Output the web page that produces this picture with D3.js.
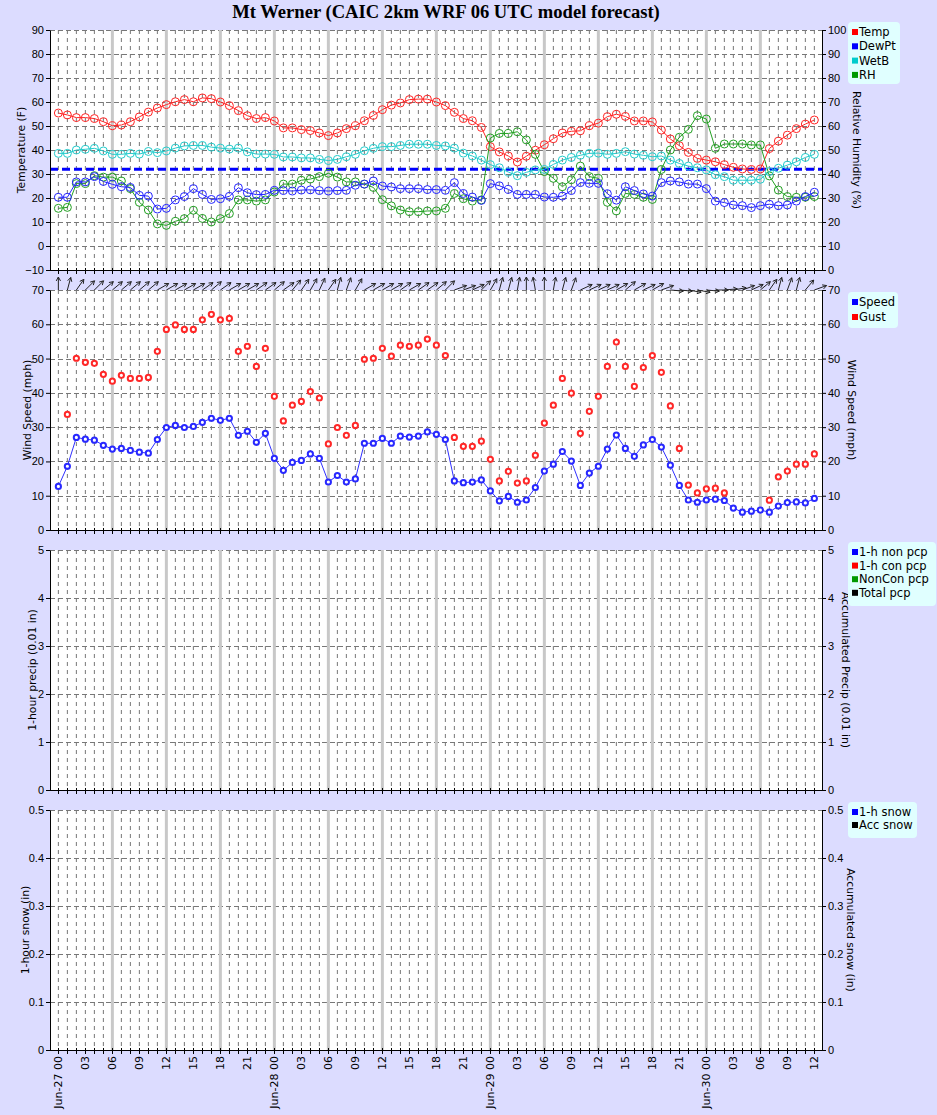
<!DOCTYPE html>
<html>
<head>
<meta charset="utf-8">
<script src="https://cdn.jsdelivr.net/npm/d3@7"></script>
<style>
  body { margin: 0; background: #dcdcff; }
  svg { display: block; font-family: "DejaVu Sans", Verdana, sans-serif; }
</style>
</head>
<body>
<svg id="chart" width="937" height="1115"></svg>
<script>
// Forecast hours from Jun-27 00 UTC
const hours = d3.range(0, 85);

const xTickLabels = ["Jun-27 00","03","06","09","12","15","18","21",
  "Jun-28 00","03","06","09","12","15","18","21",
  "Jun-29 00","03","06","09","12","15","18","21",
  "Jun-30 00","03","06","09","12"];

// Temperature panel (F) and RH (%)
const temp = [55.4,54.6,53.5,53.5,53.1,51.8,50.1,50.4,51.8,53.8,55.8,57.5,58.9,60.1,61.0,60.1,61.7,61.4,60.0,58.5,
  56.4,54.3,53.1,53.5,52.1,49.2,49.2,48.5,48.1,47.1,46.0,47.1,48.9,50.1,52.2,54.4,56.8,58.7,59.6,61.0,
  61.2,61.2,60.0,58.5,55.7,53.1,52.2,49.4,41.4,39.2,37.5,35.0,37.4,39.9,42.2,44.7,47.1,47.8,48.0,50.1,
  51.2,53.9,54.9,54.0,52.1,52.1,51.7,48.3,44.6,41.8,39.0,36.5,35.8,35.1,33.9,32.8,32.1,31.9,32.1,40.6,
  43.7,46.2,48.9,50.8,52.5];
const dewpt = [20.3,20.3,26.7,26.7,28.9,26.9,25.7,24.7,24.4,21.1,20.8,15.4,15.7,19.2,20.6,23.9,21.5,19.4,19.7,20.7,
  24.3,22.2,21.4,21.5,23.2,23.1,22.9,23.3,23.4,23.1,22.9,23.1,23.2,25.3,25.8,27.1,25.0,24.6,23.9,23.9,
  23.9,23.5,23.5,23.2,26.4,21.9,20.4,19.0,26.0,25.1,23.6,21.5,21.5,21.5,20.4,20.3,20.8,23.1,26.4,26.1,
  26.1,21.8,19.1,24.7,23.1,21.7,20.8,26.4,27.1,26.7,25.8,25.8,23.9,18.7,18.1,17.1,16.8,16.0,16.8,17.4,
  16.8,17.1,18.7,20.6,22.4];
const wetb = [38.6,38.6,40.0,40.3,40.7,39.6,38.2,38.2,38.6,38.3,39.4,38.9,39.6,40.8,41.7,41.9,41.9,41.2,40.8,40.4,
  40.8,39.2,38.3,38.3,38.2,37.1,37.1,36.7,36.7,36.1,35.6,36.1,37.2,38.2,39.7,40.7,41.4,41.4,41.9,42.4,
  42.4,42.4,41.9,41.7,40.8,38.7,37.5,35.8,33.9,32.6,30.8,29.3,30.7,31.7,31.9,34.0,35.8,36.9,37.8,38.6,
  38.7,38.2,38.6,39.3,38.3,37.8,37.2,37.5,35.8,34.4,33.3,32.6,31.7,29.7,28.9,27.4,27.4,27.4,27.8,31.0,
  32.4,33.7,35.1,36.9,38.2];
const rh = [25.7,26.1,36.0,36.0,39.3,38.7,38.7,37.1,33.9,28.2,25.0,19.2,18.6,20.3,21.4,24.9,21.5,20.0,21.4,23.5,
  29.2,29.2,28.7,29.2,32.5,35.8,35.8,37.4,37.9,38.9,40.3,38.7,36.7,36.7,35.8,34.4,29.3,26.7,25.0,24.3,
  24.3,24.6,24.6,25.7,31.9,29.7,28.7,29.2,55.0,56.9,56.9,57.6,54.2,48.2,41.0,38.2,34.7,37.6,43.3,38.9,
  38.2,28.2,24.6,31.9,31.5,30.3,29.4,41.9,50.0,55.3,58.6,64.3,62.9,50.7,52.5,52.5,52.5,52.1,52.1,39.2,
  33.3,30.6,30.3,30.3,30.6];
const freezing = 32;

// Wind panel (mph); direction the wind blows from (deg)
const speed = [12.7,18.6,27.0,26.5,26.2,24.7,23.6,23.8,23.2,22.7,22.4,26.4,29.9,30.5,29.9,30.2,31.4,32.6,32.0,32.6,
  27.6,28.8,25.6,28.2,20.9,17.4,19.7,20.3,22.2,20.9,14.0,15.9,14.0,14.9,25.3,25.3,26.7,25.3,27.4,27.1,
  27.4,28.6,27.9,26.4,14.3,13.8,14.0,14.6,11.4,8.5,9.8,8.1,8.75,12.4,17.2,19.2,22.9,20.1,13.0,16.6,
  18.6,23.6,27.7,23.8,21.5,24.8,26.4,24.2,18.9,13.0,8.75,8.1,8.75,9.0,8.6,6.4,5.2,5.5,5.8,5.2,
  7.0,8.0,8.2,7.9,9.2];
const gust = [null,33.7,50.1,48.9,48.6,45.4,43.4,45.1,44.2,44.2,44.5,52.1,58.5,59.8,58.5,58.5,61.3,62.9,61.3,61.7,
  52.1,53.6,47.7,53.0,39.0,31.8,36.4,37.5,40.4,38.5,25.1,29.9,27.6,30.5,49.8,50.1,53.0,50.7,53.9,53.6,
  53.9,55.7,53.9,50.9,27.0,24.4,24.4,25.9,20.6,14.3,17.1,13.7,14.3,21.8,31.2,36.4,44.2,39.9,28.2,34.6,
  39.0,47.7,54.8,47.7,41.9,47.4,50.9,46.0,36.2,23.8,13.1,10.8,12.0,12.2,10.8,null,null,null,null,8.7,
  15.5,17.2,19.2,19.2,22.2];
const windDir = [180,195,215,225,225,230,230,230,230,230,230,240,240,240,240,240,235,230,235,240,
  240,240,235,235,230,235,220,215,210,205,215,195,200,210,240,240,240,240,235,240,
  235,235,230,225,250,250,245,225,210,195,195,190,180,170,180,190,195,200,245,245,
  245,245,240,230,240,245,240,250,275,275,280,280,275,270,265,260,250,245,230,215,
  195,200,195,220,250];

// Precip (0.01 in) and snow (in): nothing forecast
const precip1h = [0,0,0,0,0,0,0,0,0,0,0,0,0,0,0,0,0,0,0,0,0,0,0,0,0,0,0,0,0,0,0,0,0,0,0,0,0,0,0,0,0,0,
  0,0,0,0,0,0,0,0,0,0,0,0,0,0,0,0,0,0,0,0,0,0,0,0,0,0,0,0,0,0,0,0,0,0,0,0,0,0,0,0,0];
const snow1h = [0,0,0,0,0,0,0,0,0,0,0,0,0,0,0,0,0,0,0,0,0,0,0,0,0,0,0,0,0,0,0,0,0,0,0,0,0,0,0,0,0,0,
  0,0,0,0,0,0,0,0,0,0,0,0,0,0,0,0,0,0,0,0,0,0,0,0,0,0,0,0,0,0,0,0,0,0,0,0,0,0,0,0,0];

const legendTemp = ["Temp", "DewPt", "WetB", "RH"];
const legendWind = ["Speed", "Gust"];
const legendPrecip = ["1-h non pcp", "1-h con pcp", "NonCon pcp", "Total pcp"];
const legendSnow = ["1-h snow", "Acc snow"];

const C = { temp: "#ff2424", dew: "#2424ff", wetb: "#22cccc", rh: "#22a022" };

const svg = d3.select("#chart");
const left = 50, right = 822;
const x = d3.scaleLinear().domain([-0.93, 84.85]).range([left, right]);

svg.append("text")
  .attr("x", 446).attr("y", 18)
  .attr("text-anchor", "middle")
  .style("font-family", "'Liberation Serif','Times New Roman',serif")
  .style("font-weight", "bold").style("font-size", "18.6px")
  .text("Mt Werner (CAIC 2km WRF 06 UTC model forecast)");

// frame, grid and axes for one panel
function panel(o) {
  const g = svg.append("g");
  g.append("rect").attr("x", left).attr("y", o.top)
    .attr("width", right - left).attr("height", o.bottom - o.top).attr("fill", "#fff");

  g.selectAll(".vg").data(hours).enter().append("line")
    .attr("x1", d => x(d)).attr("x2", d => x(d))
    .attr("y1", o.top).attr("y2", o.bottom)
    .attr("stroke", "#777").attr("stroke-dasharray", "4,4");
  g.selectAll(".hg").data(o.yTicks).enter().append("line")
    .attr("x1", left).attr("x2", right)
    .attr("y1", d => Math.round(o.y(d)) + 0.5).attr("y2", d => Math.round(o.y(d)) + 0.5)
    .attr("stroke", "#777").attr("stroke-dasharray", "5,3");
  g.selectAll(".thick").data(hours.filter(h => h % 6 === 0 && h > 0 && h < 84)).enter().append("line")
    .attr("x1", d => x(d)).attr("x2", d => x(d))
    .attr("y1", o.top).attr("y2", o.bottom)
    .attr("stroke", "#c8c8c8").attr("stroke-width", 3);
  return g;
}

function axes(o) {
  const g = svg.append("g");
  const la = g.append("g").attr("transform", `translate(${left},0)`)
    .call(d3.axisLeft(o.y).tickValues(o.yTicks).tickFormat(o.fmt).tickSize(4).tickSizeOuter(0).tickPadding(2));
  const ra = g.append("g").attr("transform", `translate(${right},0)`)
    .call(d3.axisRight(o.y2).tickValues(o.y2Ticks).tickFormat(o.fmt2).tickSize(4).tickSizeOuter(0).tickPadding(2));
  [la, ra].forEach(a => {
    a.selectAll("text").style("font-size", "11px").attr("fill", "#000");
    a.select(".domain").attr("stroke", "#000");
  });
  g.append("line").attr("x1", left).attr("x2", right + 0.5)
    .attr("y1", o.bottom + 0.5).attr("y2", o.bottom + 0.5).attr("stroke", "#000");
  g.selectAll(".bt").data(hours).enter().append("line")
    .attr("x1", d => Math.round(x(d)) + 0.5).attr("x2", d => Math.round(x(d)) + 0.5)
    .attr("y1", o.bottom - 2).attr("y2", o.bottom + 4).attr("stroke", "#000");

  g.append("text").attr("transform", `translate(${o.ltx},${(o.top + o.bottom) / 2}) rotate(-90)`)
    .attr("text-anchor", "middle").attr("dy", "0.35em").style("font-size", "10.8px").text(o.lt);
  g.append("text").attr("transform", `translate(${o.rtx},${(o.top + o.bottom) / 2}) rotate(90)`)
    .attr("text-anchor", "middle").attr("dy", "0.35em").style("font-size", "10.8px").text(o.rt);
}

function legend(x0, y0, w, h, names, colors, step) {
  const g = svg.append("g").attr("transform", `translate(${x0},${y0})`);
  g.append("rect").attr("width", w).attr("height", h).attr("rx", 4)
    .attr("fill", "#e0ffff");
  names.forEach((n, i) => {
    const cy = 10 + i * step;
    g.append("rect").attr("x", 4).attr("y", cy - 3).attr("width", 6).attr("height", 6).attr("fill", colors[i]);
    g.append("text").attr("x", 11).attr("y", cy).attr("dy", "0.35em").style("font-size", "11.5px").text(n);
  });
}

// ---------- Panel 1: temperature ----------
const p1 = { top: 30, bottom: 270 };
p1.y = d3.scaleLinear().domain([-10, 90]).range([p1.bottom, p1.top]);
p1.yTicks = d3.range(-10, 91, 10);
p1.y2 = d3.scaleLinear().domain([0, 100]).range([p1.bottom, p1.top]);
p1.y2Ticks = d3.range(0, 101, 10);
p1.fmt = d3.format("d"); p1.fmt2 = d3.format("d");
p1.lt = "Temperature (F)"; p1.ltx = 21; p1.rt = "Relative Humidity (%)"; p1.rtx = 857;
const g1 = panel(p1);

g1.append("line").attr("x1", left).attr("x2", right)
  .attr("y1", p1.y(freezing)).attr("y2", p1.y(freezing))
  .attr("stroke", "#0000ff").attr("stroke-width", 3).attr("stroke-dasharray", "8,4");

function series(g, vals, yScale, color) {
  const pts = hours.map((h, i) => [h, vals[i]]);
  g.append("path").datum(pts)
    .attr("fill", "none").attr("stroke", color).attr("stroke-width", 1)
    .attr("d", d3.line().x(d => x(d[0])).y(d => yScale(d[1])));
  g.selectAll(null).data(pts).enter().append("circle")
    .attr("cx", d => x(d[0])).attr("cy", d => yScale(d[1])).attr("r", 4)
    .attr("fill", "none").attr("stroke", color).attr("stroke-width", 1);
}
series(g1, temp, p1.y, C.temp);
series(g1, rh, p1.y2, C.rh);
series(g1, wetb, p1.y, C.wetb);
series(g1, dewpt, p1.y, C.dew);
axes(p1);
legend(848, 22, 52, 62, legendTemp, ["#ff0000", "#0000ff", "#00cccc", "#009900"], 14.3);

// ---------- Panel 2: wind ----------
const p2 = { top: 290, bottom: 530 };
p2.y = d3.scaleLinear().domain([0, 70]).range([p2.bottom, p2.top]);
p2.yTicks = d3.range(0, 71, 10);
p2.y2 = p2.y; p2.y2Ticks = p2.yTicks;
p2.fmt = d3.format("d"); p2.fmt2 = d3.format("d");
p2.lt = "Wind Speed (mph)"; p2.ltx = 27; p2.rt = "Wind Speed (mph)"; p2.rtx = 852;
const g2 = panel(p2);

const spPts = hours.map((h, i) => [h, speed[i]]);
g2.append("path").datum(spPts).attr("fill", "none").attr("stroke", "#3030ff")
  .attr("d", d3.line().x(d => x(d[0])).y(d => p2.y(d[1])));
g2.selectAll(null).data(spPts).enter().append("circle")
  .attr("cx", d => x(d[0])).attr("cy", d => p2.y(d[1])).attr("r", 2.6)
  .attr("fill", "#fff").attr("stroke", "#2828ff").attr("stroke-width", 2);
const guPts = hours.map((h, i) => [h, gust[i]]).filter(d => d[1] !== null);
g2.selectAll(null).data(guPts).enter().append("circle")
  .attr("cx", d => x(d[0])).attr("cy", d => p2.y(d[1])).attr("r", 2.6)
  .attr("fill", "#fff").attr("stroke", "#ff2828").attr("stroke-width", 2);
axes(p2);

// direction arrows above the wind panel
const arrowLen = 13;
const ag = svg.append("g").attr("stroke", "#222").attr("fill", "none").attr("stroke-width", 1);
hours.forEach((h, i) => {
  const a = (windDir[i] + 180) * Math.PI / 180;
  const x0 = x(h), y0 = p2.top;
  const x1 = x0 + arrowLen * Math.sin(a), y1 = y0 - arrowLen * Math.cos(a);
  const hl = 4.5, ha = 0.5;
  const p = d3.path();
  p.moveTo(x0, y0); p.lineTo(x1, y1);
  p.moveTo(x1 + hl * Math.sin(a + Math.PI - ha), y1 - hl * Math.cos(a + Math.PI - ha));
  p.lineTo(x1, y1);
  p.lineTo(x1 + hl * Math.sin(a + Math.PI + ha), y1 - hl * Math.cos(a + Math.PI + ha));
  ag.append("path").attr("d", p.toString());
});
legend(848, 292, 50, 36, legendWind, ["#0000ff", "#ff0000"], 15);

// ---------- Panel 3: precip ----------
const p3 = { top: 550, bottom: 790 };
p3.y = d3.scaleLinear().domain([0, 5]).range([p3.bottom, p3.top]);
p3.yTicks = d3.range(0, 6, 1);
p3.y2 = p3.y; p3.y2Ticks = p3.yTicks;
p3.fmt = d3.format("d"); p3.fmt2 = d3.format("d");
p3.lt = "1-hour precip (0.01 in)"; p3.ltx = 32; p3.rt = "Accumulated Precip (0.01 in)"; p3.rtx = 846;
const g3 = panel(p3);
g3.selectAll(null).data(hours).enter().append("rect")
  .attr("x", d => x(d) - 3).attr("width", 6)
  .attr("y", (d, i) => p3.y(precip1h[i])).attr("height", (d, i) => p3.y(0) - p3.y(precip1h[i]))
  .attr("fill", "#0000ff");
axes(p3);
legend(848, 542, 88, 64, legendPrecip, ["#0000ff", "#ff0000", "#009900", "#000000"], 13.6);

// ---------- Panel 4: snow ----------
const p4 = { top: 810, bottom: 1050 };
p4.y = d3.scaleLinear().domain([0, 0.5]).range([p4.bottom, p4.top]);
p4.yTicks = [0, 0.1, 0.2, 0.3, 0.4, 0.5];
p4.y2 = p4.y; p4.y2Ticks = p4.yTicks;
p4.fmt = d => d === 0 ? "0" : d3.format(".1f")(d); p4.fmt2 = p4.fmt;
p4.lt = "1-hour snow (in)"; p4.ltx = 25; p4.rt = "Accumulated snow (in)"; p4.rtx = 851;
const g4 = panel(p4);
g4.selectAll(null).data(hours).enter().append("rect")
  .attr("x", d => x(d) - 3).attr("width", 6)
  .attr("y", (d, i) => p4.y(snow1h[i])).attr("height", (d, i) => p4.y(0) - p4.y(snow1h[i]))
  .attr("fill", "#0000ff");
axes(p4);
legend(848, 802, 69, 36, legendSnow, ["#0000ff", "#000000"], 13);

// time labels under the bottom panel
const labelHours = hours.filter(h => h % 3 === 0);
svg.append("g").selectAll("text").data(labelHours).enter().append("text")
  .attr("transform", d => `translate(${x(d)},1056) rotate(-90)`)
  .attr("text-anchor", "end").attr("dy", "0.35em")
  .style("font-size", "11px")
  .text((d, i) => xTickLabels[i]);
</script>
</body>
</html>
